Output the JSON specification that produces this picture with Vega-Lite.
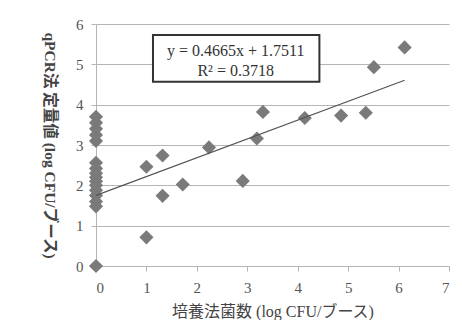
{
  "$schema": "https://vega.github.io/schema/vega-lite/v6.json",
  "autosize": {"type": "none"},
  "width": 353,
  "height": 242,
  "padding": {"left": 96, "top": 24, "right": 13, "bottom": 54},
  "background": "white",
  "config": {
    "view": {"stroke": null},
    "font": "Liberation Serif, Noto Sans CJK JP"
  },
  "datasets": {
    "pts": [
      {"culture": 0, "qpcr": 0},
      {"culture": 0, "qpcr": 1.48},
      {"culture": 0, "qpcr": 1.6},
      {"culture": 0, "qpcr": 1.75},
      {"culture": 0, "qpcr": 1.88},
      {"culture": 0, "qpcr": 2.0},
      {"culture": 0, "qpcr": 2.1},
      {"culture": 0, "qpcr": 2.2},
      {"culture": 0, "qpcr": 2.3},
      {"culture": 0, "qpcr": 2.42},
      {"culture": 0, "qpcr": 2.56},
      {"culture": 0, "qpcr": 3.1},
      {"culture": 0, "qpcr": 3.25},
      {"culture": 0, "qpcr": 3.4},
      {"culture": 0, "qpcr": 3.55},
      {"culture": 0, "qpcr": 3.7},
      {"culture": 1.0, "qpcr": 0.71},
      {"culture": 1.0, "qpcr": 2.46},
      {"culture": 1.32, "qpcr": 2.74},
      {"culture": 1.32, "qpcr": 1.74},
      {"culture": 1.72, "qpcr": 2.02},
      {"culture": 2.24, "qpcr": 2.94},
      {"culture": 2.91, "qpcr": 2.11},
      {"culture": 3.19, "qpcr": 3.16},
      {"culture": 3.31, "qpcr": 3.82},
      {"culture": 4.14, "qpcr": 3.67},
      {"culture": 4.86, "qpcr": 3.73},
      {"culture": 5.35, "qpcr": 3.8},
      {"culture": 5.51, "qpcr": 4.93},
      {"culture": 6.12, "qpcr": 5.42}
    ],
    "trend": [
      {"culture": 0, "qpcr": 1.7511},
      {"culture": 6.12, "qpcr": 4.606}
    ],
    "eq": [
      {"line": 1, "label": "y = 0.4665x + 1.7511", "xpos": 2.77, "ypos": 5.32},
      {"line": 2, "label": "R² = 0.3718", "xpos": 2.77, "ypos": 4.83}
    ]
  },
  "layer": [
    {
      "data": {"name": "pts"},
      "mark": {"type": "point", "shape": "diamond", "filled": true, "color": "#7a7a7a", "opacity": 1, "size": 200},
      "encoding": {
        "x": {
          "field": "culture", "type": "quantitative",
          "scale": {"domain": [0, 7], "nice": false, "zero": false},
          "axis": {
            "title": "培養法菌数 (log CFU/ブース)",
            "values": [0, 1, 2, 3, 4, 5, 6, 7],
            "grid": false,
            "domainColor": "#b5b5b5",
            "tickColor": "#b5b5b5",
            "tickSize": 5,
            "labelPadding": 9,
            "labelFontSize": 15,
            "labelColor": "#555",
            "titleFontSize": 16,
            "titleFontWeight": "normal",
            "titleColor": "#444",
            "titlePadding": 8
          }
        },
        "y": {
          "field": "qpcr", "type": "quantitative",
          "scale": {"domain": [0, 6], "nice": false},
          "axis": {
            "title": "qPCR法 定量値 (log CFU/ブース)",
            "values": [0, 1, 2, 3, 4, 5, 6],
            "grid": true,
            "gridColor": "#b5b5b5",
            "domainColor": "#b5b5b5",
            "tickColor": "#b5b5b5",
            "tickSize": 5,
            "labelPadding": 8,
            "labelFontSize": 15,
            "labelColor": "#555",
            "titleAngle": 90,
            "titleFontSize": 15.5,
            "titleFontWeight": "bold",
            "titleColor": "#444",
            "titlePadding": 34
          }
        }
      }
    },
    {
      "data": {"name": "trend"},
      "mark": {"type": "line", "color": "#555", "strokeWidth": 1.2},
      "encoding": {
        "x": {"field": "culture", "type": "quantitative"},
        "y": {"field": "qpcr", "type": "quantitative"}
      }
    },
    {
      "data": {"values": [{}]},
      "mark": {"type": "rect", "fill": "white", "stroke": "#333", "strokeWidth": 2},
      "encoding": {
        "x": {"datum": 1.13},
        "x2": {"datum": 4.43},
        "y": {"datum": 5.73},
        "y2": {"datum": 4.57}
      }
    },
    {
      "data": {"name": "eq"},
      "mark": {"type": "text", "fontSize": 16, "color": "#333", "align": "center", "baseline": "middle"},
      "encoding": {
        "x": {"field": "xpos", "type": "quantitative"},
        "y": {"field": "ypos", "type": "quantitative"},
        "text": {"field": "label"}
      }
    }
  ]
}
